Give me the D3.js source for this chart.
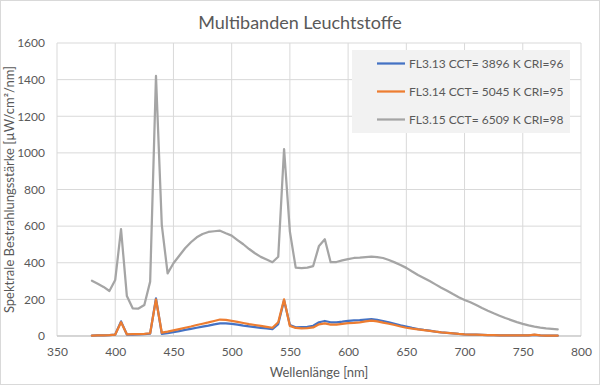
<!DOCTYPE html>
<meta charset="utf-8">
<html>
<script src="https://d3js.org/d3.v7.min.js"></script>

<style>
    body { margin: 0; background: #fff; }
    svg { font-family: "Lato", "Open Sans", sans-serif; }
</style>

<body>
<svg id="chart"></svg>

<script>
// ---------------- data ----------------
const wavelengths = d3.range(380, 781, 5);

const fl313 = [2, 3, 4, 5, 8, 80, 8, 8, 9, 10, 13, 205, 12, 15, 21, 27, 33, 39, 45, 51, 57, 64, 69, 69, 66,
    62, 57, 53, 49, 45, 42, 38, 65, 195, 60, 47, 49, 50, 56, 75, 82, 75, 75, 78, 82, 85, 87, 90, 92, 88,
    82, 74, 66, 58, 51, 44, 38, 33, 29, 24, 20, 17, 14, 11, 9, 8, 7, 6, 5, 5, 4, 4, 3, 3, 3, 3, 6, 3, 2, 2, 2];

const fl314 = [2, 3, 4, 5, 8, 75, 9, 10, 10, 11, 15, 200, 18, 24, 31, 38, 45, 52, 60, 67, 74, 82, 90, 88, 83,
    77, 71, 65, 60, 55, 50, 45, 75, 200, 55, 44, 42, 43, 47, 64, 69, 62, 62, 66, 70, 72, 75, 80, 84, 80,
    73, 67, 60, 52, 45, 40, 36, 32, 28, 24, 20, 17, 14, 11, 9, 8, 7, 6, 5, 5, 4, 4, 3, 3, 3, 3, 8, 3, 2, 2, 2];

const fl315 = [302, 285, 268, 246, 306, 583, 218, 151, 150, 169, 297, 1420, 606, 342, 397, 438, 479, 512, 539, 557,
    568, 572, 575, 561, 548, 524, 501, 475, 452, 432, 418, 403, 433, 1021, 570, 373, 370, 373, 382, 492,
    528, 403, 404, 413, 420, 426, 428, 431, 433, 431, 426, 415, 402, 388, 372, 352, 333, 317, 300, 282,
    264, 247, 229, 212, 197, 184, 169, 153, 138, 124, 111, 98, 87, 76, 66, 58, 51, 46, 42, 39, 36];

const seriesNames = ["FL3.13 CCT= 3896 K CRI=96", "FL3.14 CCT= 5045 K CRI=95", "FL3.15 CCT= 6509 K CRI=98"];
const seriesColors = ["#4472C4", "#ED7D31", "#A5A5A5"];
const xTicks = d3.range(350, 801, 50);
const yTicks = d3.range(0, 1601, 200);

// ---------------- layout ----------------
const width = 600, height = 385;
const margin = { left: 57, right: 19, top: 43, bottom: 49 };

const svg = d3.select("#chart")
    .attr("width", width)
    .attr("height", height);

// chart border
svg.append("rect")
    .attr("x", 0.5).attr("y", 0.5)
    .attr("width", width - 1).attr("height", height - 1)
    .attr("fill", "#fff")
    .attr("stroke", "#d9d9d9");

const x = d3.scaleLinear().domain([350, 800]).range([margin.left, width - margin.right]);
const y = d3.scaleLinear().domain([0, 1600]).range([height - margin.bottom, margin.top]);

// gridlines
svg.append("g")
    .selectAll("line.v")
    .data(xTicks)
    .enter().append("line")
        .attr("x1", d => x(d)).attr("x2", d => x(d))
        .attr("y1", y(0)).attr("y2", y(1600))
        .attr("stroke", "#d9d9d9").attr("stroke-width", 1);

svg.append("g")
    .selectAll("line.h")
    .data(yTicks)
    .enter().append("line")
        .attr("x1", x(350)).attr("x2", x(800))
        .attr("y1", d => y(d)).attr("y2", d => y(d))
        .attr("stroke", "#d9d9d9").attr("stroke-width", 1);

// axes (labels only, Excel style)
const xAxis = svg.append("g")
    .attr("transform", `translate(0,${y(0)})`)
    .call(d3.axisBottom(x).tickValues(xTicks).tickSize(0).tickPadding(11).tickFormat(d3.format("d")));
const yAxis = svg.append("g")
    .attr("transform", `translate(${x(350)},0)`)
    .call(d3.axisLeft(y).tickValues(yTicks).tickSize(0).tickPadding(12).tickFormat(d3.format("d")));

[xAxis, yAxis].forEach(a => {
    a.select(".domain").remove();
    a.selectAll("text")
        .attr("fill", "#595959")
        .style("font-size", "12px")
        .style("font-family", "Lato, sans-serif");
});

// x axis baseline
svg.append("line")
    .attr("x1", x(350)).attr("x2", x(800))
    .attr("y1", y(0)).attr("y2", y(0))
    .attr("stroke", "#bfbfbf");

// lines
const allSeries = [fl313, fl314, fl315];
const line = d3.line()
    .x((d, i) => x(wavelengths[i]))
    .y(d => y(d));

// grey first, then blue and orange on top
[2, 0, 1].forEach(k => {
    svg.append("path")
        .datum(allSeries[k])
        .attr("d", line)
        .attr("fill", "none")
        .attr("stroke", seriesColors[k])
        .attr("stroke-width", 2.25)
        .attr("stroke-linejoin", "round")
        .attr("stroke-linecap", "round");
});

// legend
const legend = svg.append("g");
legend.append("rect")
    .attr("x", 352).attr("y", 50)
    .attr("width", 218).attr("height", 83)
    .attr("fill", "#f2f2f2");

seriesNames.forEach((name, i) => {
    const ly = 63.5 + i * 28;
    legend.append("line")
        .attr("x1", 377).attr("x2", 405)
        .attr("y1", ly).attr("y2", ly)
        .attr("stroke", seriesColors[i])
        .attr("stroke-width", 2.25);
    legend.append("text")
        .attr("x", 409).attr("y", ly + 4.5)
        .attr("fill", "#595959")
        .style("font-size", "12px")
        .text(name);
});

// title
svg.append("text")
    .attr("x", 300).attr("y", 29)
    .attr("text-anchor", "middle")
    .attr("fill", "#595959")
    .style("font-size", "18px")
    .text("Multibanden Leuchtstoffe");

// axis titles
svg.append("text")
    .attr("x", (x(350) + x(800)) / 2).attr("y", 377)
    .attr("text-anchor", "middle")
    .attr("fill", "#595959")
    .style("font-size", "13px")
    .text("Wellenlänge [nm]");

svg.append("text")
    .attr("transform", `translate(14,${(y(0) + y(1600)) / 2}) rotate(-90)`)
    .attr("text-anchor", "middle")
    .attr("fill", "#595959")
    .style("font-size", "13px")
    .text("Spektrale Bestrahlungsstärke [µW/cm²/nm]");
</script>
</body>
</html>
